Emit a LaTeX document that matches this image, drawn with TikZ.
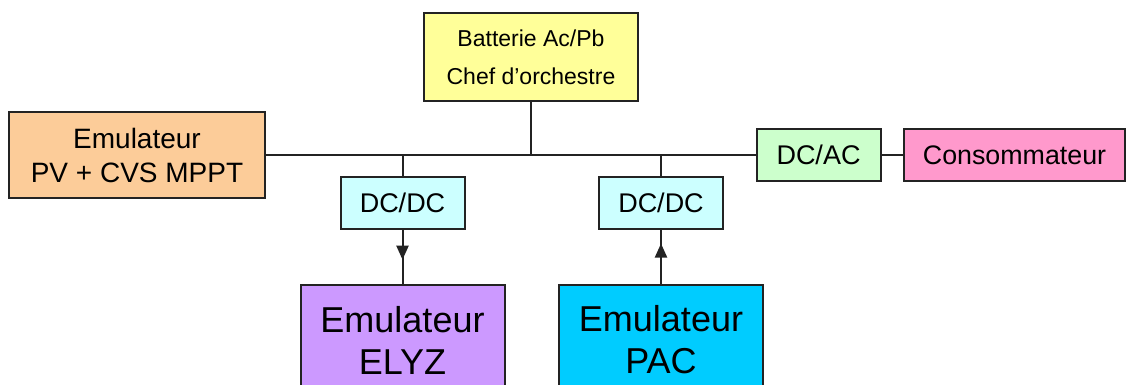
\documentclass[tikz,border=0pt]{standalone}
\usepackage{fontspec}
\setmainfont{Liberation Sans}
\usepackage{xcolor}
\usepackage{tikz}
\usetikzlibrary{arrows.meta, positioning, calc, decorations.markings}
\definecolor{mydark}{RGB}{35,35,35}
\definecolor{battyellow}{RGB}{255,255,153}
\definecolor{pvorange}{RGB}{252,204,153}
\definecolor{convcyan}{RGB}{204,255,255}
\definecolor{convgreen}{RGB}{204,255,204}
\definecolor{loadpink}{RGB}{255,153,204}
\definecolor{elyzpurple}{RGB}{204,153,255}
\definecolor{pacblue}{RGB}{0,204,255}
\tikzset{
  line/.style={draw=mydark, line width=1pt},
  flowarrow/.style={line, postaction={decorate}, decoration={markings, mark=at position #1 with {\arrow{Triangle[length=7pt,width=6pt]}}}},
  block/.style={draw=mydark, line width=1pt, rectangle, align=center, inner sep=0pt},
  conv/.style={block, minimum width=62pt, minimum height=26pt, font=\fontsize{13.5}{16}\selectfont},
  emul/.style={block, minimum width=102pt, minimum height=55pt, font=\fontsize{18}{21}\selectfont}
}

\begin{document}
\begin{tikzpicture}[x=0.5pt, y=-0.5pt]
  \useasboundingbox (0,0) rectangle (1129,385);
  \clip (0,0) rectangle (1129,385);

  % Sources and loads on the DC bus
  \node [block, fill=battyellow, minimum width=107pt, minimum height=44pt, font=\fontsize{11.5}{19}\selectfont] (batt) at (531,57) {Batterie Ac/Pb\\Chef d'orchestre};
  \node [block, fill=pvorange, minimum width=128pt, minimum height=42.5pt, font=\fontsize{14}{17}\selectfont] (pv) at (137,155) {Emulateur\\PV + CVS MPPT};
  \node [conv, fill=convgreen] (dcac) at (818.5,155) {DC/AC};
  \node [conv, fill=loadpink, minimum width=110.5pt, font=\fontsize{13.4}{16}\selectfont] (conso) at (1014.5,155) {Consommateur};

  % Converters and emulators
  \node [conv, fill=convcyan] (dcdc1) at (402.5,203) {DC/DC};
  \node [conv, fill=convcyan] (dcdc2) at (661,203) {DC/DC};
  \node [emul, fill=elyzpurple] (elyz) at (402.5,340) {Emulateur\\ELYZ};
  \node [emul, fill=pacblue] (pac) at (661,340) {Emulateur\\PAC};

  % Bus junctions
  \coordinate (jbatt) at (batt.south |- pv.east);
  \coordinate (jelyz) at (dcdc1.north |- pv.east);
  \coordinate (jpac) at (dcdc2.north |- pv.east);

  \draw [line] (pv.east) -- (dcac.west);
  \draw [line] (dcac) -- (conso);
  \draw [line] (batt.south) -- (jbatt);
  \draw [line] (dcdc1.north) -- (jelyz);
  \draw [line] (dcdc2.north) -- (jpac);
  \draw [flowarrow=0.55] (dcdc1.south) -- (elyz.north);
  \draw [flowarrow=0.75] (pac.north) -- (dcdc2.south);
\end{tikzpicture}
\end{document}
